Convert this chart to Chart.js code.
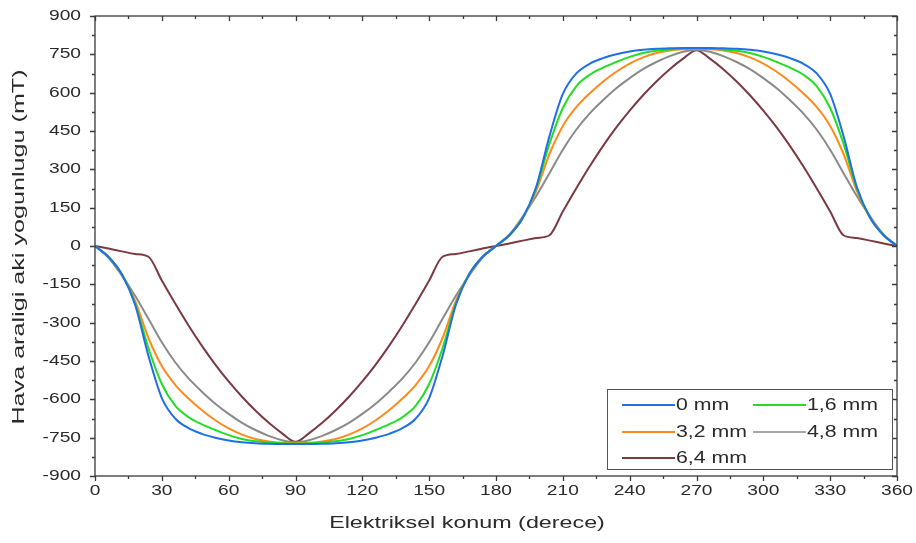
<!DOCTYPE html>
<html lang="tr">
<head>
<meta charset="UTF-8" />
<title>Hava araligi aki yogunlugu</title>
<style>
  html, body { margin: 0; padding: 0; background: #fff; }
  #wrap { width: 916px; height: 543px; position: relative; }
</style>
</head>
<body>
<div id="wrap"><canvas id="fluxChart" width="916" height="543"></canvas></div>
<script src="https://cdn.jsdelivr.net/npm/chart.js@4.4.2/dist/chart.umd.min.js"></script>
<script>
// electrical position (deg), 6 deg steps
const thetas = [
  0, 6, 12, 18, 24, 30, 36, 42, 48, 54, 60, 66, 72, 78, 84, 90,
  96, 102, 108, 114, 120, 126, 132, 138, 144, 150, 156, 162, 168, 174, 180,
  186, 192, 198, 204, 210, 216, 222, 228, 234, 240, 246, 252, 258, 264, 270,
  276, 282, 288, 294, 300, 306, 312, 318, 324, 330, 336, 342, 348, 354, 360
];

const seriesLabels = ["0 mm", "1,6 mm", "3,2 mm", "4,8 mm", "6,4 mm"];
const seriesColors = ["#1f6fe6", "#22dd22", "#ff8a1c", "#8a8a8a", "#7a3a42"];

// air gap flux density (mT)
const flux0 = [
  0, -42, -110, -230, -430, -595, -675, -713, -735, -750, -761, -768, -772, -774, -775, -775,
  -775, -774, -772, -768, -761, -750, -735, -713, -675, -595, -430, -230, -110, -42, 0,
  42, 110, 230, 430, 595, 675, 713, 735, 750, 761, 768, 772, 774, 775, 775,
  775, 774, 772, 768, 761, 750, 735, 713, 675, 595, 430, 230, 110, 42, 0
];
const flux16 = [
  0, -42, -110, -225, -400, -540, -625, -670, -698, -720, -740, -755, -764, -769, -772, -773,
  -772, -769, -764, -755, -740, -720, -698, -670, -625, -540, -400, -225, -110, -42, 0,
  42, 110, 225, 400, 540, 625, 670, 698, 720, 740, 755, 764, 769, 772, 773,
  772, 769, 764, 755, 740, 720, 698, 670, 625, 540, 400, 225, 110, 42, 0
];
const flux32 = [
  0, -42, -110, -215, -360, -470, -543, -597, -643, -682, -714, -738, -755, -765, -770, -772,
  -770, -765, -755, -738, -714, -682, -643, -597, -543, -470, -360, -215, -110, -42, 0,
  42, 110, 215, 360, 470, 543, 597, 643, 682, 714, 738, 755, 765, 770, 772,
  770, 765, 755, 738, 714, 682, 643, 597, 543, 470, 360, 215, 110, 42, 0
];
const flux48 = [
  0, -45, -115, -195, -285, -377, -455, -518, -570, -617, -657, -692, -720, -743, -760, -768,
  -760, -743, -720, -692, -657, -617, -570, -518, -455, -377, -285, -195, -115, -45, 0,
  45, 115, 195, 285, 377, 455, 518, 570, 617, 657, 692, 720, 743, 760, 768,
  760, 743, 720, 692, 657, 617, 570, 518, 455, 377, 285, 195, 115, 45, 0
];
const flux64 = [
  0, -10, -21, -31, -42, -135, -225, -311, -391, -464, -530, -590, -644, -692, -733, -766,
  -733, -692, -644, -590, -530, -464, -391, -311, -225, -135, -42, -31, -21, -10, 0,
  10, 21, 31, 42, 135, 225, 311, 391, 464, 530, 590, 644, 692, 733, 766,
  733, 692, 644, 590, 530, 464, 391, 311, 225, 135, 42, 31, 21, 10, 0
];

const xTickValues = [0, 30, 60, 90, 120, 150, 180, 210, 240, 270, 300, 330, 360];
const yTickValues = [-900, -750, -600, -450, -300, -150, 0, 150, 300, 450, 600, 750, 900];

const xTitle = "Elektriksel konum (derece)";
const yTitle = "Hava araligi aki yogunlugu (mT)";

const allFlux = [flux0, flux16, flux32, flux48, flux64];
const FONT = "Liberation Sans, Arial, sans-serif";
const TEXT_COLOR = "#2a2a2a";
// the source figure's lettering is stretched wider than normal Arial
const STRETCH = 1.37;

function wideText(ctx, text, x, y, align, sx) {
  ctx.save();
  ctx.translate(x, y);
  ctx.scale(sx, 1);
  ctx.textAlign = align;
  ctx.fillText(text, 0, 0);
  ctx.restore();
}

// frame, tick marks, tick labels and axis titles, Origin-style
const framePlugin = {
  id: "frame",
  afterDraw(chart) {
    const { ctx, chartArea: a } = chart;
    const xs = chart.scales.x;
    const ys = chart.scales.y;
    ctx.save();
    ctx.strokeStyle = "#3a3a3a";
    ctx.lineWidth = 1.3;
    ctx.strokeRect(a.left, a.top, a.right - a.left, a.bottom - a.top);

    ctx.beginPath();
    for (let v = 0; v <= 360; v += 15) {
      const px = Math.round(xs.getPixelForValue(v)) + 0.5;
      const len = v % 30 === 0 ? 5 : 3;
      ctx.moveTo(px, a.bottom);
      ctx.lineTo(px, a.bottom + len);
      ctx.moveTo(px, a.top);
      ctx.lineTo(px, a.top + len);
    }
    for (let v = -900; v <= 900; v += 75) {
      const py = Math.round(ys.getPixelForValue(v)) + 0.5;
      const len = v % 150 === 0 ? 5 : 3;
      ctx.moveTo(a.left, py);
      ctx.lineTo(a.left - len, py);
      ctx.moveTo(a.right, py);
      ctx.lineTo(a.right - len, py);
    }
    ctx.stroke();

    ctx.fillStyle = TEXT_COLOR;
    ctx.textBaseline = "middle";
    ctx.font = "14px " + FONT;
    xs.ticks.forEach((t) => {
      wideText(ctx, String(t.value), xs.getPixelForValue(t.value), a.bottom + 15, "center", STRETCH);
    });
    ys.ticks.forEach((t) => {
      wideText(ctx, String(t.value), a.left - 14, ys.getPixelForValue(t.value), "right", STRETCH);
    });

    ctx.font = "17px " + FONT;
    wideText(ctx, xTitle, 467, 523, "center", STRETCH);
    ctx.translate(19, 247);
    ctx.rotate(-Math.PI / 2);
    wideText(ctx, yTitle, 0, 0, "center", 1.48);
    ctx.restore();
  },
};

// two-column legend box in the lower right corner
const legendPlugin = {
  id: "boxLegend",
  afterDraw(chart) {
    const { ctx, chartArea: a } = chart;
    const right = a.right - 5;
    const bottom = a.bottom - 7;
    const left = right - 285;
    const top = bottom - 80;
    ctx.save();
    ctx.fillStyle = "#fff";
    ctx.fillRect(left, top, right - left, bottom - top);
    ctx.strokeStyle = "#555";
    ctx.lineWidth = 1;
    ctx.strokeRect(left + 0.5, top + 0.5, right - left, bottom - top);
    ctx.font = "16px " + FONT;
    ctx.textBaseline = "middle";
    const cols = [left + 15, left + 146];
    const rows = [top + 16, top + 43, top + 69];
    chart.data.datasets.forEach((ds, i) => {
      const cx = cols[i % 2];
      const cy = rows[Math.floor(i / 2)];
      ctx.strokeStyle = ds.borderColor;
      ctx.lineWidth = i === 3 ? 1.3 : ds.borderWidth;
      ctx.beginPath();
      ctx.moveTo(cx, cy);
      ctx.lineTo(cx + 53, cy);
      ctx.stroke();
      ctx.fillStyle = TEXT_COLOR;
      wideText(ctx, ds.label, cx + 54, cy + 1, "left", 1.33);
    });
    ctx.restore();
  },
};

const datasets = seriesLabels.map((label, i) => ({
  label,
  data: thetas.map((t, k) => ({ x: t, y: allFlux[i][k] })),
  borderColor: seriesColors[i],
  backgroundColor: seriesColors[i],
  borderWidth: 2,
  pointRadius: 0,
  fill: false,
  cubicInterpolationMode: "monotone",
}));

new Chart(document.getElementById("fluxChart"), {
  type: "line",
  data: { datasets },
  options: {
    responsive: false,
    animation: false,
    events: [],
    layout: { padding: { left: 0, right: 19, top: 16, bottom: 0 } },
    plugins: { legend: { display: false }, tooltip: { enabled: false } },
    scales: {
      x: {
        type: "linear",
        min: 0,
        max: 360,
        afterBuildTicks(scale) {
          scale.ticks = xTickValues.map((v) => ({ value: v }));
        },
        afterFit(scale) { scale.height = 67; },
        grid: { display: false, drawTicks: false },
        border: { display: false },
        ticks: { display: false },
      },
      y: {
        type: "linear",
        min: -900,
        max: 900,
        afterBuildTicks(scale) {
          scale.ticks = yTickValues.map((v) => ({ value: v }));
        },
        afterFit(scale) { scale.width = 95; },
        grid: { display: false, drawTicks: false },
        border: { display: false },
        ticks: { display: false },
      },
    },
  },
  plugins: [framePlugin, legendPlugin],
});
</script>
</body>
</html>
